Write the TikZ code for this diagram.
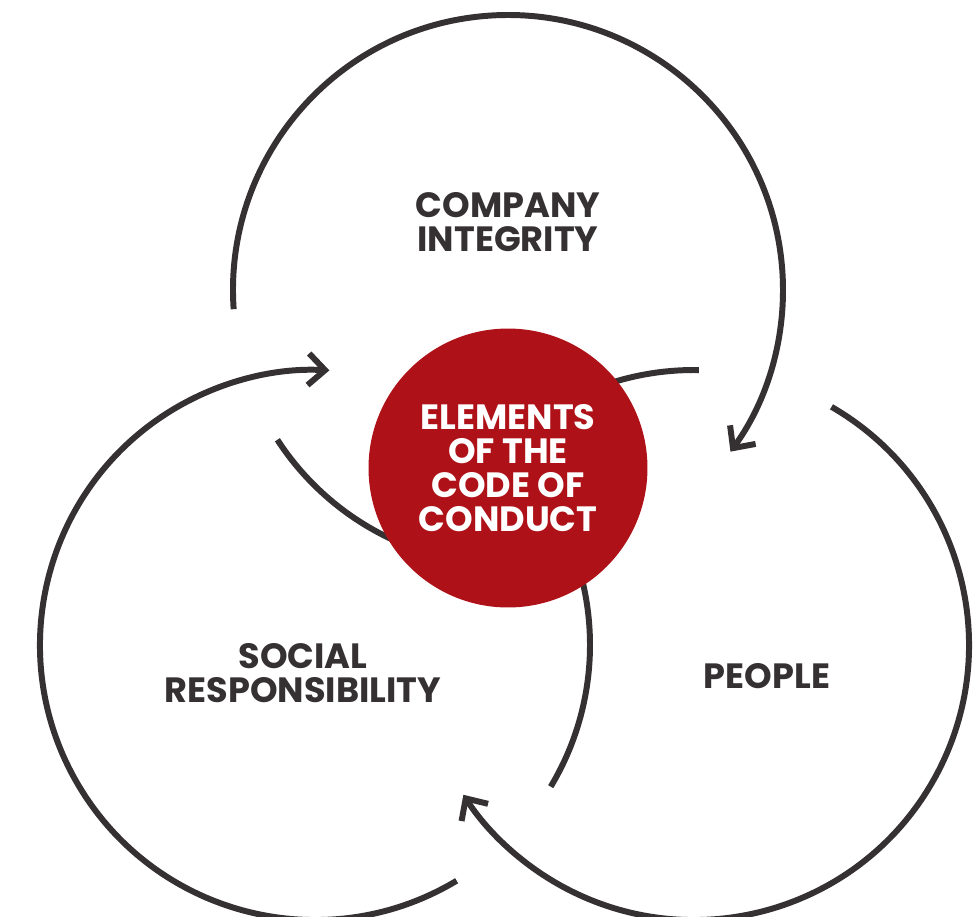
\documentclass[tikz,border=0pt]{standalone}
\usepackage{fontspec}
\setmainfont{Poppins}
\usetikzlibrary{arrows.meta}
\definecolor{ringgray}{HTML}{353132}
\definecolor{codered}{HTML}{AE1218}

\begin{document}
\begin{tikzpicture}[x=0.02cm, y=0.02cm, line width=3.4pt]
    \tikzstyle{ring}=[draw=ringgray]
    \tikzstyle{ringarrow}=[ring, -{Straight Barb[length=9.5pt, width=18pt]}]
    \tikzstyle{label}=[text=ringgray, align=center,
                       font=\fontsize{20}{19.5}\selectfont\bfseries]

    \useasboundingbox (0,0) rectangle (975,-917);

    % circle centres
    \coordinate (ctop)   at (508,-290);
    \coordinate (cright) at (694,-645);
    \coordinate (cleft)  at (315,-645);

    % the three rings
    \draw[ringarrow] ([shift={(184:275)}]ctop) arc[start angle=184, end angle=-36, radius=275];
    \draw[ring]      ([shift={(213:275)}]ctop) arc[start angle=213, end angle=250, radius=275];
    \draw[ringarrow] ([shift={(60:275)}]cright) arc[start angle=60, end angle=-147, radius=275];
    \draw[ring]      ([shift={(89:275)}]cright) arc[start angle=89, end angle=125, radius=275];
    \draw[ringarrow] ([shift={(-59:275)}]cleft) arc[start angle=-59, end angle=-273, radius=275];
    \draw[ring]      ([shift={(-31:275)}]cleft) arc[start angle=-31, end angle=25, radius=275];

    % centre and labels
    \node[circle, fill=codered, minimum size=5.58cm, inner sep=0pt, text=white,
          align=center, font=\fontsize{20}{19.5}\selectfont\bfseries] (code) at (508,-468)
          {ELEMENTS\\OF THE\\CODE OF\\CONDUCT};
    \node[label] (integrity) at (508,-222) {COMPANY\\INTEGRITY};
    \node[label] (social)    at (303,-673) {SOCIAL\\RESPONSIBILITY};
    \node[label] (people)    at (767,-676) {PEOPLE};
\end{tikzpicture}
\end{document}
